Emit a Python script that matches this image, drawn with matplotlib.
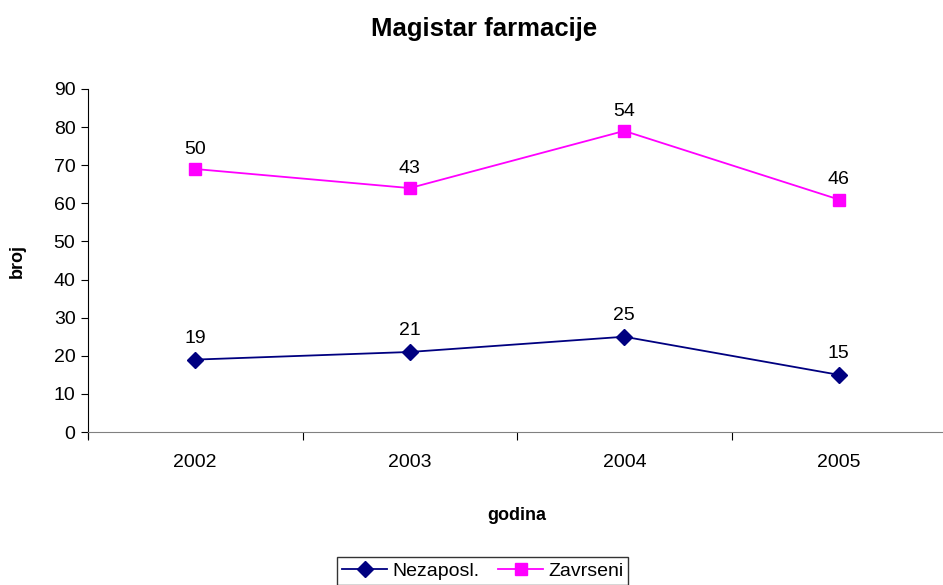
import matplotlib
matplotlib.use("Agg")
import matplotlib.pyplot as plt
import numpy as np

plt.rcParams['font.family'] = ['Liberation Sans', 'DejaVu Sans']

godine = ['2002', '2003', '2004', '2005']
nezaposl = [19, 21, 25, 15]
zavrseni = [50, 43, 54, 46]

# stacked line chart: second series sits on top of the first
x = np.arange(len(godine))
zavrseni_stack = np.array(nezaposl) + np.array(zavrseni)

fig = plt.figure(figsize=(9.43, 5.85), dpi=100)
ax = fig.add_axes([0.0933, 0.2615, 0.9100, 0.5864])

ax.plot(x, nezaposl, color='#000080', marker='D', markersize=8, lw=1.3, label='Nezaposl.')
ax.plot(x, zavrseni_stack, color='#FF00FF', marker='s', markersize=8, lw=1.3, label='Zavrseni')

for xi, yi, v in zip(x, nezaposl, nezaposl):
    ax.annotate(str(v), (xi, yi), xytext=(0, 9), textcoords='offset points',
                ha='center', va='bottom', fontsize=14)
for xi, yi, v in zip(x, zavrseni_stack, zavrseni):
    ax.annotate(str(v), (xi, yi), xytext=(0, 8), textcoords='offset points',
                ha='center', va='bottom', fontsize=14)

ax.set_xlim(-0.5, 3.5)
ax.set_ylim(0, 90)
ax.set_yticks(range(0, 91, 10))
ax.set_xticks(np.arange(-0.5, 3.6, 1.0))
ax.set_xticklabels([])
ax.set_xticks(x, minor=True)
ax.set_xticklabels(godine, minor=True)
ax.tick_params(axis='x', which='minor', length=0, pad=16, labelsize=14)
ax.tick_params(axis='x', which='major', length=6, direction='out', color='#000000')
ax.tick_params(axis='y', length=5, direction='out', labelsize=14, pad=4)

ax.spines['top'].set_visible(False)
ax.spines['right'].set_visible(False)
ax.spines['left'].set_color('#000000')
ax.spines['bottom'].set_color('#808080')
ax.spines['left'].set_bounds(-1.5, 90)

ax.set_xlabel('godina', fontsize=13, fontweight='bold', labelpad=26)
ax.set_ylabel('broj', fontsize=13, fontweight='bold', labelpad=20)
fig.text(0.513, 0.950, 'Magistar farmacije', ha='center', va='center',
         fontsize=18.5, fontweight='bold')

leg = fig.legend(loc='center', bbox_to_anchor=(0.512, 0.024), ncol=2, frameon=True,
                 fancybox=False, edgecolor='#000000', fontsize=14, handlelength=2.3,
                 columnspacing=1.0, borderpad=0.25, handletextpad=0.25,
                 borderaxespad=0.0)
leg.get_frame().set_linewidth(1.0)

fig.savefig('out.png', dpi=100)
